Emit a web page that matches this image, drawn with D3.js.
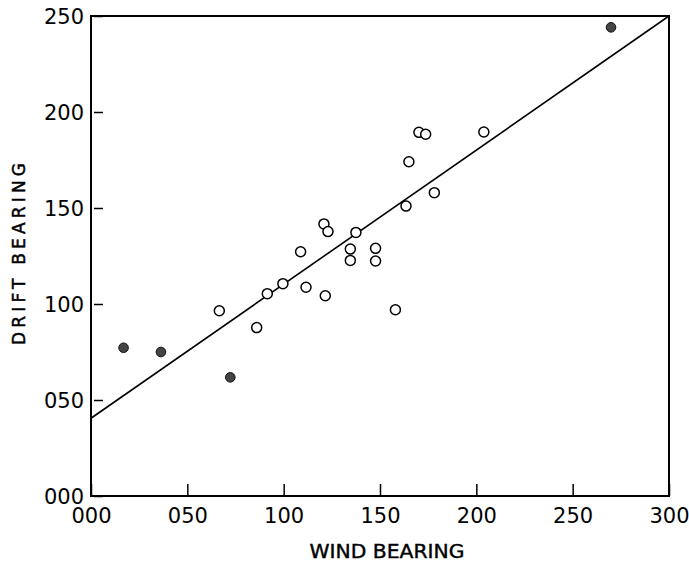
<!DOCTYPE html>
<html>
<head>
<meta charset="utf-8">
<script src="https://cdn.jsdelivr.net/npm/d3@7"></script>
<style>
  html, body { margin: 0; padding: 0; background: #fff; }
  svg { display: block; }
  text { font-family: "DejaVu Sans", sans-serif; fill: #000; }
</style>
</head>
<body>
<svg id="chart" width="689" height="561"></svg>
<script>
// ---- data ----
const openWind  = [66.6, 86, 91.5, 99.6, 108.8, 111.6, 121.6, 120.9, 123, 134.6, 134.6, 137.5, 147.7, 147.7, 158, 163.5, 165, 170.2, 173.7, 178.2, 203.9];
const openDrift = [96.5, 87.7, 105.4, 110.6, 127.2, 108.7, 104.3, 141.7, 137.7, 128.6, 122.7, 137.3, 129, 122.4, 97, 151, 174.1, 189.4, 188.4, 158, 189.6];
const filledWind  = [16.9, 36.3, 72.3, 269.9];
const filledDrift = [77.2, 75, 61.8, 244.1];
const fitWind  = [0, 300];
const fitDrift = [40.5, 250];
const xTicks = [0, 50, 100, 150, 200, 250, 300];
const yTicks = [0, 50, 100, 150, 200, 250];
const fmt = d => String(d).padStart(3, "0");

// ---- layout ----
const W = 689, H = 561;
const m = { left: 91, right: 20, top: 16, bottom: 65 };
const svg = d3.select("#chart");
const x = d3.scaleLinear().domain([0, 300]).range([m.left, W - m.right]);
const y = d3.scaleLinear().domain([0, 250]).range([H - m.bottom, m.top]);

// frame
svg.append("rect")
  .attr("x", x(0)).attr("y", y(250))
  .attr("width", x(300) - x(0)).attr("height", y(0) - y(250))
  .attr("fill", "none").attr("stroke", "#000").attr("stroke-width", 2);

// x axis (ticks inward)
const xAxis = svg.append("g")
  .attr("transform", `translate(0,${y(0)})`)
  .call(d3.axisBottom(x).tickValues(xTicks).tickFormat(fmt).tickSizeInner(-12).tickSizeOuter(0).tickPadding(12));
xAxis.select(".domain").remove();
xAxis.selectAll(".tick line").attr("stroke", "#000").attr("stroke-width", 1.5);
xAxis.selectAll(".tick text").attr("font-size", 21).attr("dy", "0.72em").attr("y", 12);

// y axis (ticks inward)
const yAxis = svg.append("g")
  .attr("transform", `translate(${x(0)},0)`)
  .call(d3.axisLeft(y).tickValues(yTicks).tickFormat(fmt).tickSizeInner(-12).tickSizeOuter(0).tickPadding(7));
yAxis.select(".domain").remove();
yAxis.selectAll(".tick line").attr("stroke", "#000").attr("stroke-width", 1.5)
  .attr("x1", 3);
yAxis.selectAll(".tick text").attr("font-size", 21).attr("x", -7).attr("dy", "0.38em");

// regression line
svg.append("line")
  .attr("x1", x(fitWind[0])).attr("y1", y(fitDrift[0]))
  .attr("x2", x(fitWind[1])).attr("y2", y(fitDrift[1]))
  .attr("stroke", "#000").attr("stroke-width", 1.6);

// open points
svg.append("g").selectAll("circle")
  .data(openWind.map((w, i) => [w, openDrift[i]]))
  .join("circle")
  .attr("cx", d => x(d[0])).attr("cy", d => y(d[1]))
  .attr("r", 5).attr("fill", "#fff").attr("stroke", "#000").attr("stroke-width", 1.5);

// filled points
svg.append("g").selectAll("circle")
  .data(filledWind.map((w, i) => [w, filledDrift[i]]))
  .join("circle")
  .attr("cx", d => x(d[0])).attr("cy", d => y(d[1]))
  .attr("r", 4.8).attr("fill", "#444").attr("stroke", "#111").attr("stroke-width", 1);

// axis titles
svg.append("text")
  .attr("x", 387).attr("y", 558)
  .attr("text-anchor", "middle").attr("font-size", 19)
  .attr("stroke", "#000").attr("stroke-width", 0.4)
  .attr("textLength", 155).attr("lengthAdjust", "spacingAndGlyphs")
  .text("WIND BEARING");

svg.append("text")
  .attr("transform", "translate(25,254) rotate(-90)")
  .attr("text-anchor", "middle").attr("font-size", 17)
  .attr("stroke", "#000").attr("stroke-width", 0.5)
  .attr("textLength", 182).attr("lengthAdjust", "spacing")
  .text("DRIFT BEARING");
</script>
</body>
</html>
